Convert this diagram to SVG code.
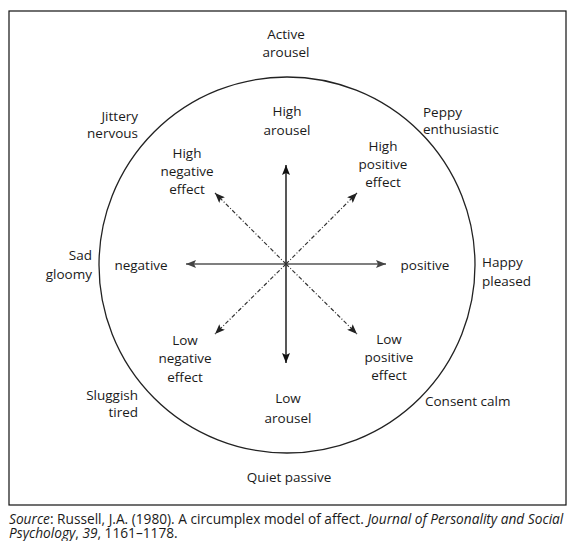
<svg xmlns="http://www.w3.org/2000/svg" width="570" height="541" viewBox="0 0 570 541">
<style>
text{font-family:"Open Sans","Noto Sans","Liberation Sans",sans-serif;font-size:13.5px;fill:#1a1a1a}
.m{text-anchor:middle}.e{text-anchor:end}.s{text-anchor:start}
.src{font-size:13.7px}
.axv{stroke:#111;stroke-width:1.4;fill:none}
.axh{stroke:#555;stroke-width:1.4;fill:none}
.dg{stroke:#333;stroke-width:1.2;stroke-dasharray:4,2,1,2;fill:none}
</style>
<defs>
<marker id="ak" viewBox="0 0 10 8" refX="10" refY="4" markerWidth="10" markerHeight="8" markerUnits="userSpaceOnUse" orient="auto"><path d="M0,0 L10,4 L0,8 L2,4 z" fill="#111"/></marker>
<marker id="ag" viewBox="0 0 10 8" refX="10" refY="4" markerWidth="10" markerHeight="8" markerUnits="userSpaceOnUse" orient="auto"><path d="M0,0 L10,4 L0,8 L2,4 z" fill="#444"/></marker>
<marker id="ad" viewBox="0 0 10 8" refX="10" refY="4" markerWidth="10" markerHeight="8" markerUnits="userSpaceOnUse" orient="auto"><path d="M0,0 L10,4 L0,8 L2,4 z" fill="#222"/></marker>
</defs>
<rect id="frame" x="9" y="11" width="557" height="494" fill="#fff" stroke="#111" stroke-width="1.2"/>
<circle id="circle" cx="287" cy="265" r="188" fill="none" stroke="#222" stroke-width="1.3"/>
<g id="connectors">
<line class="axv" x1="286" y1="264" x2="286" y2="165" marker-end="url(#ak)"/>
<line class="axv" x1="286" y1="264" x2="286" y2="363" marker-end="url(#ak)"/>
<line class="axh" x1="286" y1="264" x2="186" y2="264" marker-end="url(#ag)"/>
<line class="axh" x1="286" y1="264" x2="386" y2="264" marker-end="url(#ag)"/>
<line class="dg" x1="286" y1="264" x2="215" y2="193" marker-end="url(#ad)"/>
<line class="dg" x1="286" y1="264" x2="357" y2="193" marker-end="url(#ad)"/>
<line class="dg" x1="286" y1="264" x2="215" y2="334" marker-end="url(#ad)"/>
<line class="dg" x1="286" y1="264" x2="357" y2="334" marker-end="url(#ad)"/>
</g>
<g id="active-arousel"><text class="m" x="286" y="39">Active</text><text class="m" x="286" y="57">arousel</text></g>
<g id="high-arousel"><text class="m" x="287" y="116">High</text><text class="m" x="287" y="135">arousel</text></g>
<g id="jittery"><text class="e" x="138" y="121">Jittery</text><text class="e" x="138" y="138">nervous</text></g>
<g id="peppy"><text class="s" x="423" y="117">Peppy</text><text class="s" x="423" y="134">enthusiastic</text></g>
<g id="high-negative"><text class="m" x="187" y="158">High</text><text class="m" x="187" y="176">negative</text><text class="m" x="187" y="194">effect</text></g>
<g id="high-positive"><text class="m" x="383" y="151">High</text><text class="m" x="383" y="169">positive</text><text class="m" x="383" y="187">effect</text></g>
<g id="sad"><text class="e" x="92" y="260">Sad</text><text class="e" x="92" y="279">gloomy</text></g>
<g id="negative"><text class="m" x="141" y="270">negative</text></g>
<g id="positive"><text class="m" x="425" y="270">positive</text></g>
<g id="happy"><text class="s" x="482" y="267">Happy</text><text class="s" x="482" y="286">pleased</text></g>
<g id="low-negative"><text class="m" x="185" y="345">Low</text><text class="m" x="185" y="363">negative</text><text class="m" x="185" y="382">effect</text></g>
<g id="low-positive"><text class="m" x="389" y="344">Low</text><text class="m" x="389" y="362">positive</text><text class="m" x="389" y="380">effect</text></g>
<g id="sluggish"><text class="e" x="138" y="400">Sluggish</text><text class="e" x="138" y="417">tired</text></g>
<g id="consent"><text class="s" x="425" y="406">Consent calm</text></g>
<g id="low-arousel"><text class="m" x="288" y="403">Low</text><text class="m" x="288" y="423">arousel</text></g>
<g id="quiet"><text class="m" x="289" y="482">Quiet passive</text></g>
<g id="source">
<text class="src" x="9" y="524"><tspan font-style="italic">Source</tspan>: Russell, J.A. (1980). A circumplex model of affect. <tspan font-style="italic">Journal of Personality and Social</tspan></text>
<text class="src" x="9" y="538"><tspan font-style="italic">Psychology</tspan>, <tspan font-style="italic">39</tspan>, 1161–1178.</text>
</g>
</svg>
